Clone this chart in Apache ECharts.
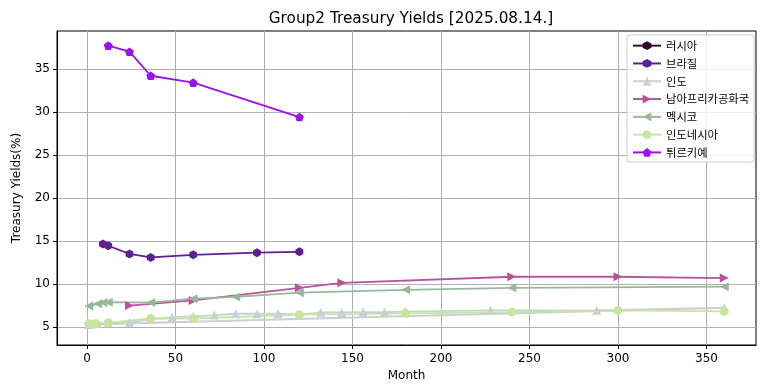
<!DOCTYPE html>
<html>
<head>
<meta charset="utf-8">
<script src="https://cdn.jsdelivr.net/npm/echarts@6/dist/echarts.min.js"></script>
<style>html,body{margin:0;padding:0;background:#fff;}#c{width:764px;height:391px;}</style>
</head>
<body>
<div id="c"></div>
<script>
// ---- data ----
const seriesNames = ['러시아', '브라질', '인도', '남아프리카공화국', '멕시코', '인도네시아', '튀르키예'];
const russiaMonths = [];
const russiaYields = [];
const brazilMonths = [9, 12, 24, 36, 60, 96, 120];
const brazilYields = [14.65, 14.45, 13.5, 13.1, 13.4, 13.65, 13.75];
const indiaMonths = [3, 6, 12, 24, 36, 48, 60, 72, 84, 96, 108, 120, 132, 144, 156, 168, 180, 228, 288, 360, 1];
const indiaYields = [5.35, 5.45, 5.5, 5.55, 5.9, 6.15, 6.25, 6.4, 6.55, 6.55, 6.55, 6.45, 6.7, 6.7, 6.75, 6.75, 6.8, 6.95, 6.95, 7.25, 5.3];
const southAfricaMonths = [24, 60, 120, 144, 240, 300, 360];
const southAfricaYields = [7.5, 8.1, 9.56, 10.14, 10.85, 10.85, 10.7];
const mexicoMonths = [1, 6, 9, 12, 36, 60, 84, 120, 180, 240, 360];
const mexicoYields = [7.45, 7.7, 7.85, 7.9, 7.85, 8.3, 8.5, 9.0, 9.33, 9.56, 9.7];
const indonesiaMonths = [1, 5, 12, 36, 60, 120, 180, 240, 300, 360];
const indonesiaYields = [5.4, 5.4, 5.5, 6.0, 6.0, 6.44, 6.6, 6.74, 6.94, 6.82];
const turkeyMonths = [12, 24, 36, 60, 120];
const turkeyYields = [37.7, 37.0, 34.2, 33.4, 29.4];
const xTicks = [0, 50, 100, 150, 200, 250, 300, 350];
const yTicks = [5, 10, 15, 20, 25, 30, 35];

function pairs(xs, ys) { return xs.map((x, i) => [x, ys[i]]); }

const HEX = 'path://M0,-1 L0.866,-0.5 L0.866,0.5 L0,1 L-0.866,0.5 L-0.866,-0.5 Z';
const PENT = 'path://M0,-1 L0.951,-0.309 L0.588,0.809 L-0.588,0.809 L-0.951,-0.309 Z';

const defs = [
  {data: pairs(russiaMonths, russiaYields), color: '#2e0a30', symbol: HEX, rot: 0},
  {data: pairs(brazilMonths, brazilYields), color: '#5b2190', symbol: HEX, rot: 0},
  {data: pairs(indiaMonths, indiaYields), color: '#c8d0d3', symbol: 'triangle', rot: 0},
  {data: pairs(southAfricaMonths, southAfricaYields), color: '#b8539f', symbol: 'triangle', rot: -90},
  {data: pairs(mexicoMonths, mexicoYields), color: '#98b898', symbol: 'triangle', rot: 90},
  {data: pairs(indonesiaMonths, indonesiaYields), color: '#c6e6a0', symbol: 'circle', rot: 0},
  {data: pairs(turkeyMonths, turkeyYields), color: '#9a12ee', symbol: PENT, rot: 0}
];

const font = 'DejaVu Sans';
const chart = echarts.init(document.getElementById('c'), null, {renderer: 'canvas'});
chart.setOption({
  animation: false,
  backgroundColor: '#fff',
  title: {
    text: 'Group2 Treasury Yields [2025.08.14.]',
    left: 406, textAlign: 'center', top: 7,
    textStyle: {fontFamily: font, fontSize: 15.3, fontWeight: 'normal', color: '#000'}
  },
  grid: {left: 57, right: 8, top: 31, bottom: 46, show: true, borderColor: '#000', borderWidth: 1, backgroundColor: 'transparent'},
  legend: {
    orient: 'vertical', left: 627, top: 35,
    data: seriesNames,
    itemWidth: 28, itemHeight: 11, itemGap: 6.5,
    padding: [5, 5, 4, 5],
    borderColor: '#cccccc', borderWidth: 1, borderRadius: 3,
    backgroundColor: 'rgba(255,255,255,0.8)',
    textStyle: {fontFamily: 'Noto Sans CJK KR', fontSize: 11.3, color: '#000'}
  },
  xAxis: {
    type: 'value', min: -16.95, max: 377.95,
    name: 'Month', nameLocation: 'middle', nameGap: 24,
    nameTextStyle: {fontFamily: font, fontSize: 12, color: '#000'},
    axisLine: {show: true, onZero: false, lineStyle: {color: '#000', width: 1}},
    axisTick: {show: true, length: 4, lineStyle: {color: '#000'}, customValues: xTicks},
    axisLabel: {fontFamily: font, fontSize: 12, color: '#000', margin: 8, customValues: xTicks},
    splitLine: {show: true, lineStyle: {color: '#b0b0b0', width: 1}}
  },
  yAxis: {
    type: 'value', min: 2.92, max: 39.4,
    name: 'Treasury Yields(%)', nameLocation: 'middle', nameGap: 34,
    nameTextStyle: {fontFamily: font, fontSize: 12, color: '#000'},
    axisLine: {show: true, onZero: false, lineStyle: {color: '#000', width: 1}},
    axisTick: {show: true, length: 4, lineStyle: {color: '#000'}, customValues: yTicks},
    axisLabel: {fontFamily: font, fontSize: 12, color: '#000', margin: 7, customValues: yTicks},
    splitLine: {show: true, lineStyle: {color: '#b0b0b0', width: 1}}
  },
  series: defs.map((d, i) => ({
    name: seriesNames[i], type: 'line', data: d.data,
    symbol: d.symbol, symbolSize: 9, symbolRotate: d.rot, symbolKeepAspect: true,
    showAllSymbol: true,
    lineStyle: {color: d.color, width: 1.8},
    itemStyle: {color: d.color, borderWidth: 0},
    emphasis: {disabled: true}
  }))
});
</script>
</body>
</html>
